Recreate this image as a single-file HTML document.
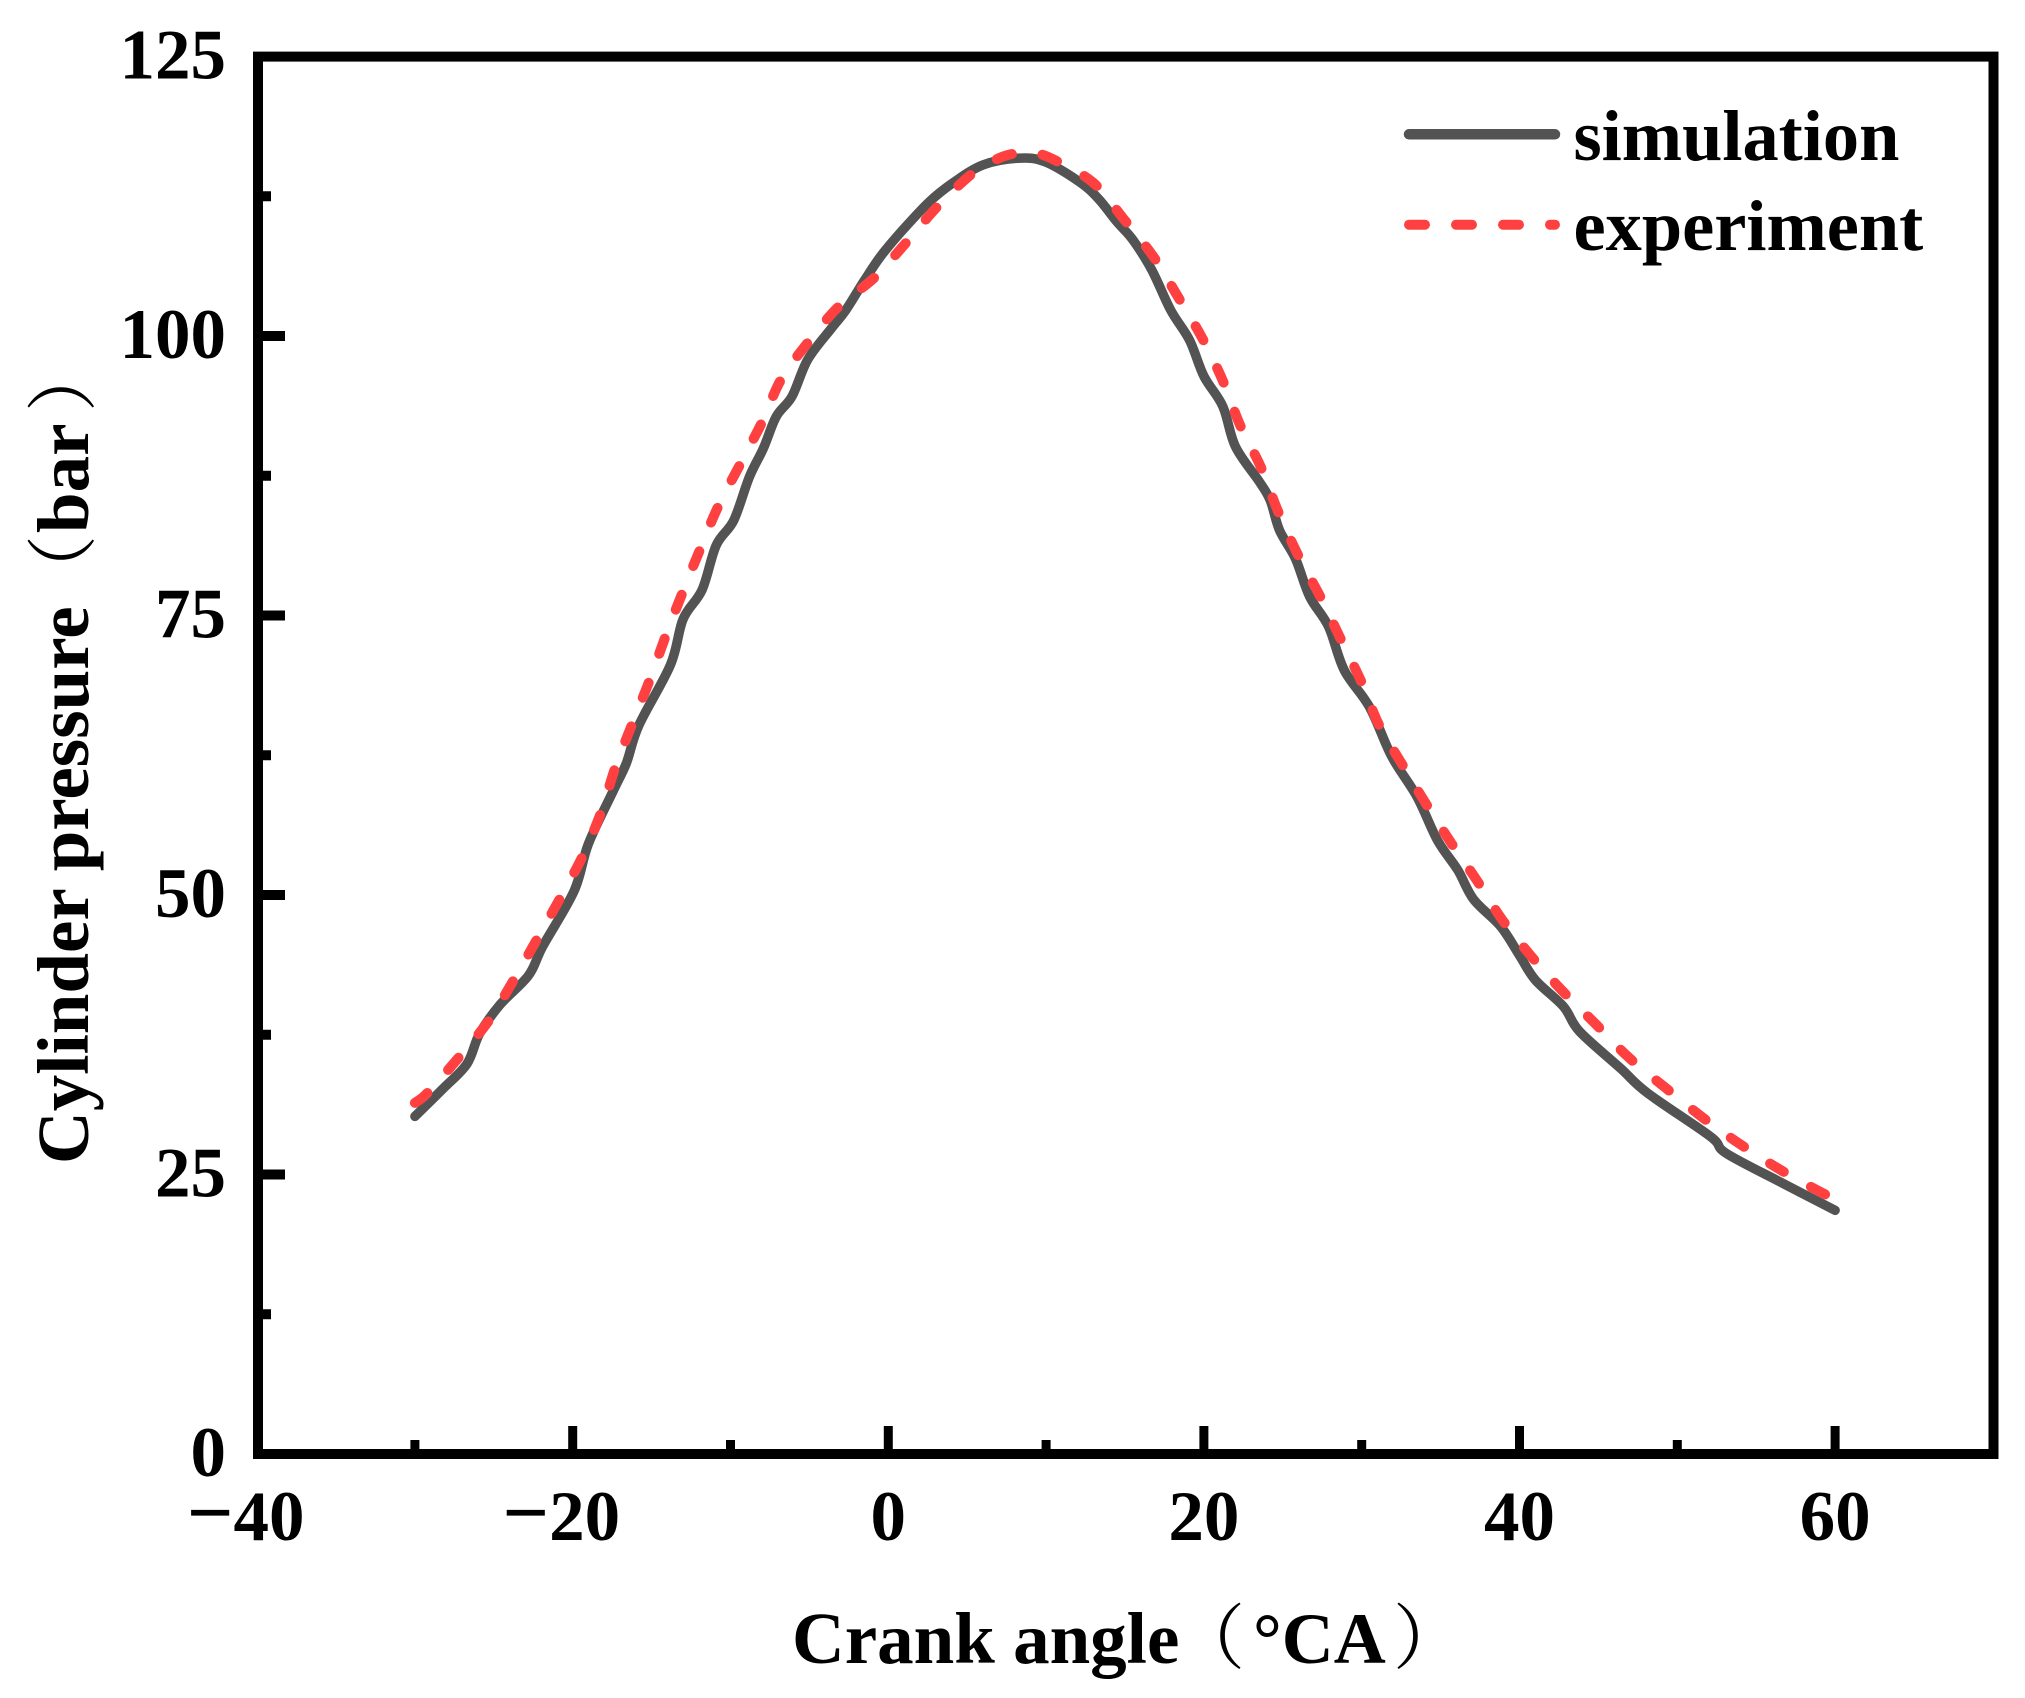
<!DOCTYPE html>
<html lang="en">
<head>
<meta charset="utf-8">
<title>Cylinder pressure vs crank angle</title>
<style>
html,body{margin:0;padding:0;background:#fff;}
svg{display:block;}
text{font-family:"Liberation Serif","Noto Serif CJK SC",serif;font-weight:700;font-size:71px;fill:#000;}
.title{font-size:73px;}
.legend-text{font-size:72.4px;}
.paren{font-family:"Noto Serif CJK SC","Liberation Serif",serif;font-weight:400;font-size:71px;}
</style>
</head>
<body>
<svg id="chart" xmlns="http://www.w3.org/2000/svg" width="2025" height="1698" viewBox="0 0 2025 1698">
  <rect x="0" y="0" width="2025" height="1698" fill="#fff"/>
  <g id="marks"></g>
  <g id="ticks"></g>
  <rect x="258" y="56.6" width="1735.5" height="1397.4" fill="none" stroke="#000" stroke-width="10"/>
  <g id="labels"></g>
  <text class="title" y="1663"><tspan x="792">Crank angle</tspan><tspan class="paren" x="1174">（</tspan><tspan x="1253" style="font-size:72px">°CA</tspan><tspan class="paren" x="1393">）</tspan></text>
  <text class="title" transform="translate(88 0) rotate(-90)"><tspan x="-1164">Cylinder pressure</tspan><tspan class="paren" x="-606">（</tspan><tspan x="-533">bar</tspan><tspan class="paren" x="-412">）</tspan></text>
  <g>
    <line x1="1409" y1="134.3" x2="1555" y2="134.3" stroke="#535353" stroke-width="10.5" stroke-linecap="round"/>
    <text class="legend-text" x="1573.5" y="160">simulation</text>
    <line x1="1409" y1="224.7" x2="1555" y2="224.7" stroke="#ff4040" stroke-width="10" stroke-linecap="round" stroke-dasharray="16 31"/>
    <text class="legend-text" x="1573.5" y="250">experiment</text>
  </g>
</svg>
<script>
const simAngle = [-30,-28.2,-26.7,-25.9,-24.6,-22.8,-21.9,-19.9,-19,-17.4,-16.6,-15.8,-13.8,-13,-11.8,-10.9,-9.8,-8.8,-7.9,-7.1,-6.1,-5.1,-3.6,-2.7,-1.5,-0.5,0.8,2.6,4.1,6,8.2,9.9,12.1,13.3,14.5,15.5,16.7,17.9,19.1,20,21.2,22,23.5,24.2,24.8,25.8,26.7,27.9,28.9,30.5,31.9,33.5,34.8,36.1,37.1,38.8,40,41,42.8,43.8,46.4,48.1,52.1,53.1,56.7,60];
const simPressure = [30.2,32.7,34.9,37.6,40.2,42.8,45.4,50.4,54.6,59.4,61.8,65.2,70.6,74.7,77.3,81.3,83.5,87.4,90,92.8,94.6,97.9,100.7,102.3,105,107.1,109.3,112,113.7,115.3,115.9,115.6,113.8,112.3,110.2,108.6,105.9,102.3,99.6,96.4,93.7,90.1,87,85.3,82.6,80.1,76.7,74,70.1,66.8,62.4,58.8,54.9,52.2,49.6,47.2,44.6,42.4,40,37.8,34.5,32.3,28.4,26.9,24.2,21.8];
const expAngle = [-30,-29.2,-27.2,-25.3,-23.7,-22.2,-20.8,-19.4,-18.2,-17.3,-16.2,-15.1,-14.1,-13,-11.9,-10.8,-9.4,-8,-6.8,-5.1,-3.1,-0.9,1.1,3,5.2,6.7,7.9,9.2,10.6,13,14.9,16.8,18.4,19.9,21.2,22.3,23.6,24.7,26,27.4,28.7,30,31.1,32.6,34.1,35.7,37.3,38.9,40.7,42.6,44.8,46.9,49.3,51.7,54.2,56.8,59.4,60];
const expPressure = [31.4,32.3,35.5,38.8,42.5,46.2,49.7,53.4,57.4,61.4,65.4,69.3,73.2,77.2,81,84.7,88.5,92.3,96.1,99.4,102.7,105.2,108.3,111.4,114.4,115.7,116.3,116.4,115.7,113.7,110.5,107.1,103.4,99.8,96,92,88.3,84.3,80.3,76.6,72.8,69,65.2,61.6,58.1,54.6,51.3,47.8,44.6,41.6,38.5,35.5,32.7,30,27.5,25.2,23.2,22.9];
const xMajorTicks = [-20,0,20,40,60];
const xMinorTicks = [-30,-10,10,30,50];
const yMajorTicks = [25,50,75,100];
const yMinorTicks = [12.5,37.5,62.5,87.5,112.5];
const xTickLabels = [-40,-20,0,20,40,60];
const yTickLabels = [0,25,50,75,100,125];

const NS = 'http://www.w3.org/2000/svg';
const sx = v => 888.3 + v * 15.78;
const sy = v => 1454 - v * 11.18;
function pathFrom(xs, ys) {
  const p = xs.map((x, i) => [sx(x), sy(ys[i])]);
  let d = 'M' + p[0][0].toFixed(1) + ' ' + p[0][1].toFixed(1);
  for (let i = 0; i < p.length - 1; i++) {
    const a = p[Math.max(i - 1, 0)], b = p[i], c = p[i + 1], e = p[Math.min(i + 2, p.length - 1)];
    d += 'C' + (b[0] + (c[0] - a[0]) / 6).toFixed(1) + ' ' + (b[1] + (c[1] - a[1]) / 6).toFixed(1) + ' ' +
         (c[0] - (e[0] - b[0]) / 6).toFixed(1) + ' ' + (c[1] - (e[1] - b[1]) / 6).toFixed(1) + ' ' +
         c[0].toFixed(1) + ' ' + c[1].toFixed(1);
  }
  return d;
}

function make(tag, parent, attrs) {
  const el = document.createElementNS(NS, tag);
  for (const k in attrs) el.setAttribute(k, attrs[k]);
  parent.appendChild(el);
  return el;
}
const marks = document.getElementById('marks');
const ticks = document.getElementById('ticks');
const labels = document.getElementById('labels');

const simLine = make('path', marks, {d: pathFrom(simAngle, simPressure), fill: 'none', stroke: '#535353', 'stroke-width': 9.5, 'stroke-linecap': 'round', 'stroke-linejoin': 'round'});


const expLine = make('path', marks, {d: pathFrom(expAngle, expPressure), fill: 'none', stroke: '#ff4040', 'stroke-width': 10, 'stroke-linecap': 'round', 'stroke-linejoin': 'round', 'stroke-dasharray': '16 31'});



xMajorTicks.forEach(v => {
  const t = make('line', ticks, {x1: sx(v), x2: sx(v), y1: 1426, y2: 1454, stroke: '#000', 'stroke-width': 9});
  
  
});
xMinorTicks.forEach(v => {
  const t = make('line', ticks, {x1: sx(v), x2: sx(v), y1: 1440, y2: 1454, stroke: '#000', 'stroke-width': 9});
  
  
});
yMajorTicks.forEach(v => {
  const t = make('line', ticks, {x1: 258, x2: 285, y1: sy(v), y2: sy(v), stroke: '#000', 'stroke-width': 10});
  
  
});
yMinorTicks.forEach(v => {
  const t = make('line', ticks, {x1: 258, x2: 271, y1: sy(v), y2: sy(v), stroke: '#000', 'stroke-width': 10});
  
  
});
xTickLabels.forEach(v => {
  const t = make('text', labels, {x: sx(v) - (v < 0 ? 11.5 : 0), y: 1540, 'text-anchor': 'middle'});
  if (v < 0) {
    const m = make('tspan', t, {style: 'font-size:82px'});
    m.textContent = '\u2212';
    const n = make('tspan', t, {});
    n.textContent = String(Math.abs(v));
  } else {
    t.textContent = String(v);
  }
  
  
});
yTickLabels.forEach(v => {
  const t = make('text', labels, {x: 226, y: sy(v) + 22, 'text-anchor': 'end'});
  t.textContent = String(v);
  
  
});
</script>
</body>
</html>
